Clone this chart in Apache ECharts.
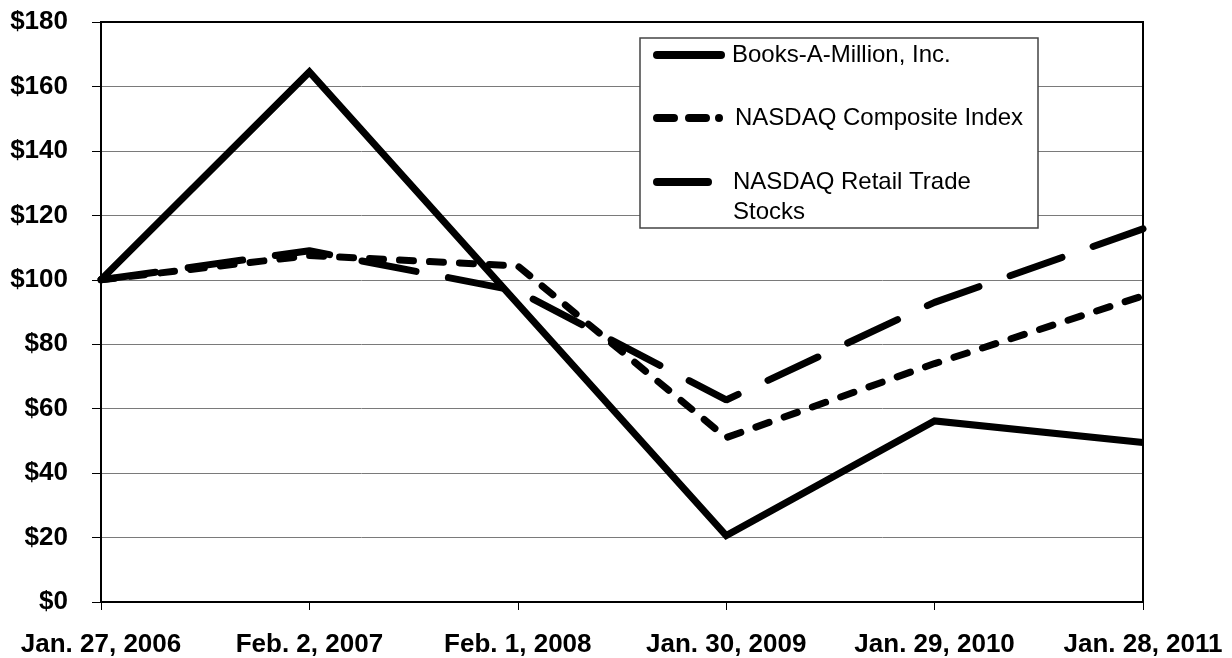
<!DOCTYPE html>
<html>
<head>
<meta charset="utf-8">
<script src="https://cdn.jsdelivr.net/npm/echarts@6/dist/echarts.min.js"></script>
<style>html,body{margin:0;padding:0;background:#fff}#c{width:1232px;height:658px}</style>
</head>
<body>
<div id="c"></div>
<script>
var categories = ['Jan. 27, 2006', 'Feb. 2, 2007', 'Feb. 1, 2008', 'Jan. 30, 2009', 'Jan. 29, 2010', 'Jan. 28, 2011'];
var booksAMillion = [100, 164.5, 92.5, 20.6, 56.2, 49.5];
var nasdaqComposite = [100, 107.5, 104.3, 51, 74, 95];
var nasdaqRetail = [100, 109, 96.5, 62.7, 93, 115.8];
var yTicks = { min: 0, max: 180, interval: 20 };
var seriesNames = ['Books-A-Million, Inc.', 'NASDAQ Composite Index', 'NASDAQ Retail Trade Stocks'];

var FONT = 'Liberation Sans, Arial, sans-serif';
var chart = echarts.init(document.getElementById('c'));

var icons = [
  'path://M4,0H68A4,4,0,0,1,68,8H4A4,4,0,0,1,4,0Z',
  'path://M4,0H21A4,4,0,0,1,21,8H4A4,4,0,0,1,4,0Z M36,0H53A4,4,0,0,1,53,8H36A4,4,0,0,1,36,0Z M66,0A4,4,0,0,1,66,8A4,4,0,0,1,66,0Z',
  'path://M4,0H55A4,4,0,0,1,55,8H4A4,4,0,0,1,4,0Z'
];
var iconW = [72, 70, 59];
var spacer = [2, 7, 16];
var legendTops = [40, 103, 137];

function lg(i) {
  return {
    orient: 'vertical', left: 653, top: legendTops[i], z: 30, padding: 0,
    itemWidth: iconW[i], itemHeight: 8, itemGap: 5,
    data: [{ name: seriesNames[i], icon: icons[i] }],
    itemStyle: { color: '#000', borderWidth: 0 },
    textStyle: {
      fontFamily: FONT, fontSize: 24, color: '#000', lineHeight: 30,
      rich: { s: { width: spacer[i], lineHeight: 30, fontSize: 24 } }
    },
    formatter: function (n) {
      if (n === seriesNames[2]) return '{s|}\n{s|}NASDAQ Retail Trade\n{s|}Stocks';
      return '{s|}' + n;
    },
    selectedMode: false
  };
}
chart.setOption({
  animation: false,
  backgroundColor: '#fff',
  grid: { left: 101, right: 89, top: 22, bottom: 55, show: true, borderColor: '#000', borderWidth: 2, backgroundColor: 'transparent', z: 3 },
  graphic: [{
    type: 'rect', z: 25, shape: { x: 640, y: 38, width: 398, height: 190 },
    style: { fill: '#fff', stroke: '#444', lineWidth: 1.5 }
  }],
  legend: [lg(0), lg(1), lg(2)],
  xAxis: {
    type: 'category', data: categories, boundaryGap: false,
    axisLine: { lineStyle: { color: '#000', width: 2 } },
    axisTick: { show: true, length: 8, lineStyle: { color: '#000', width: 1 } },
    axisLabel: { interval: 0, margin: 30, fontFamily: FONT, fontWeight: 'bold', fontSize: 26, color: '#000' },
    splitLine: { show: false }
  },
  yAxis: {
    type: 'value', min: yTicks.min, max: yTicks.max, interval: yTicks.interval,
    axisLine: { show: true, lineStyle: { color: '#000', width: 2 } },
    axisTick: { show: true, length: 9, lineStyle: { color: '#000', width: 1 } },
    axisLabel: { margin: 33, fontFamily: FONT, fontWeight: 'bold', fontSize: 26, color: '#000', formatter: function (v) { return '$' + v; } },
    splitLine: { show: true, lineStyle: { color: '#7a7a7a', width: 1 } }
  },
  series: [
    { name: seriesNames[0], type: 'line', data: booksAMillion, symbol: 'none', z: 5,
      lineStyle: { color: '#000', width: 7, join: 'miter', cap: 'butt' }, itemStyle: { color: '#000' } },
    { name: seriesNames[1], type: 'line', data: nasdaqComposite, symbol: 'none', z: 5,
      lineStyle: { color: '#000', width: 7, type: [14, 16], cap: 'round' }, itemStyle: { color: '#000' } },
    { name: seriesNames[2], type: 'line', data: nasdaqRetail, symbol: 'none', z: 5,
      lineStyle: { color: '#000', width: 7, type: [55, 33], cap: 'round' }, itemStyle: { color: '#000' } }
  ]
});
</script>
</body>
</html>
